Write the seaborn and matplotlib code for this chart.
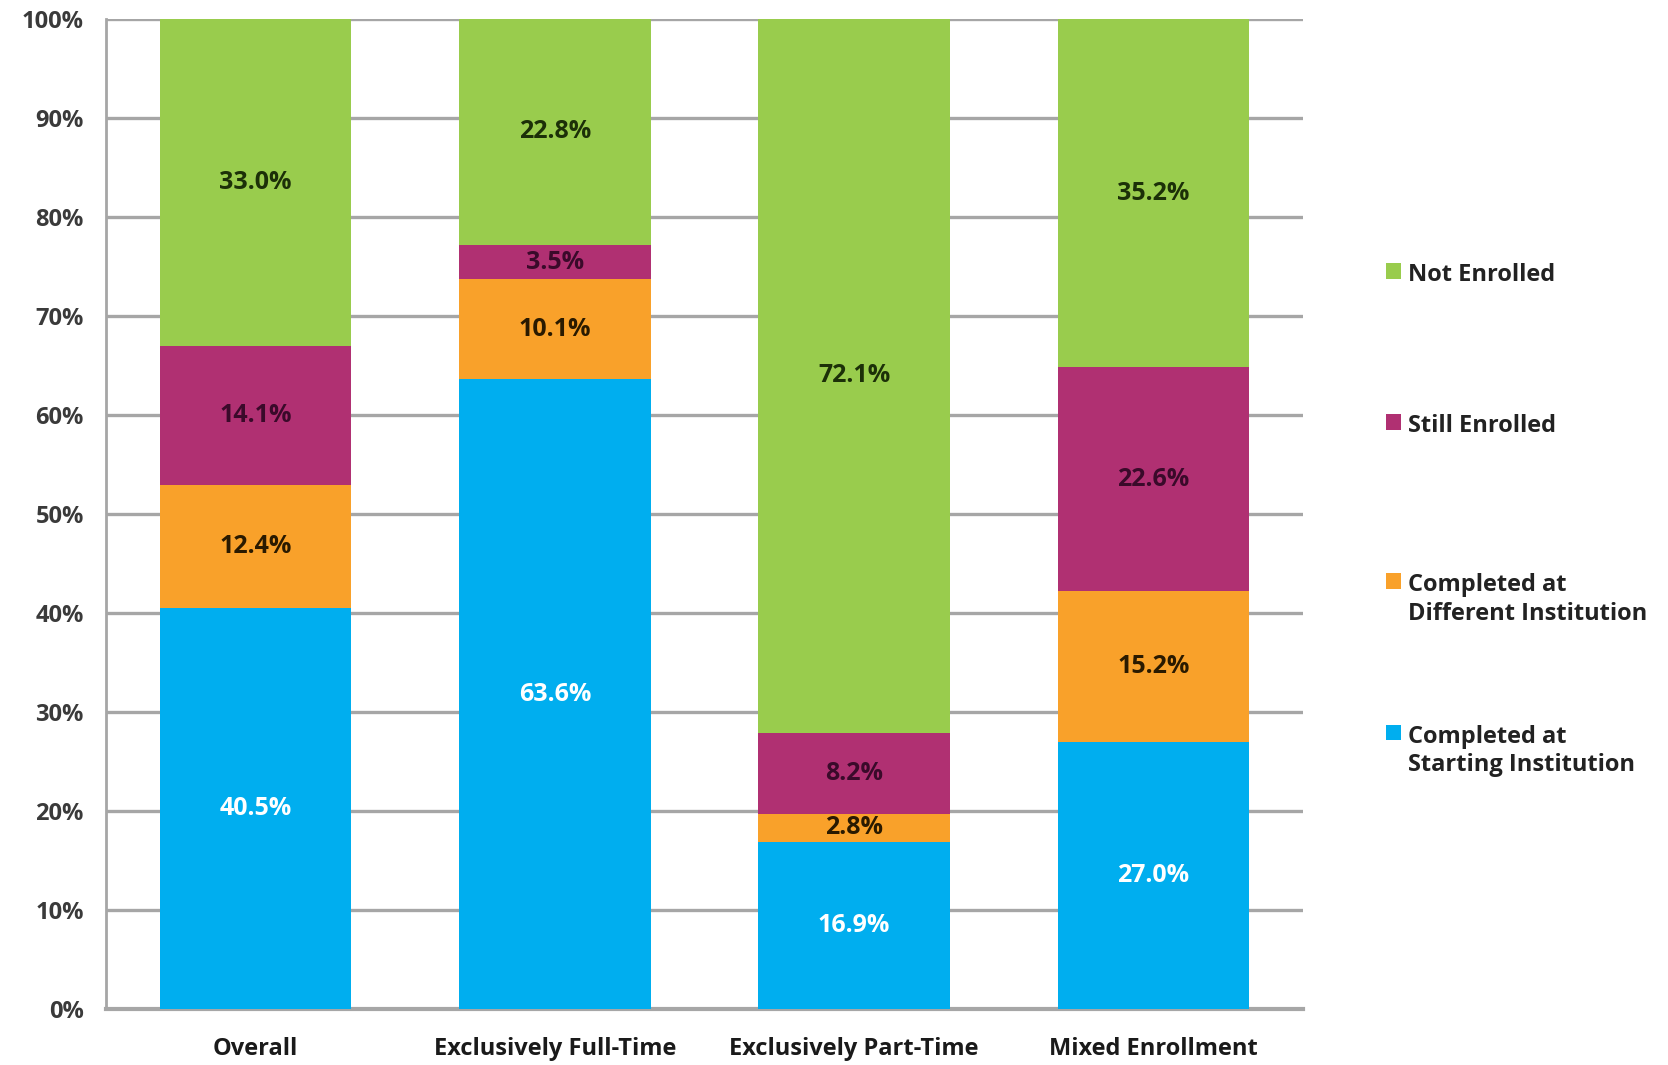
import numpy as np
import pandas as pd
import seaborn as sns
import matplotlib
matplotlib.use("Agg")
import matplotlib.pyplot as plt
from matplotlib.patches import Patch

categories = ["Overall", "Exclusively Full-Time", "Exclusively Part-Time", "Mixed Enrollment"]
series_names = ["Completed at\nStarting Institution", "Completed at\nDifferent Institution",
                "Still Enrolled", "Not Enrolled"]
starting = [40.5, 63.6, 16.9, 27.0]
different = [12.4, 10.1, 2.8, 15.2]
still = [14.1, 3.5, 8.2, 22.6]
not_enrolled = [33.0, 22.8, 72.1, 35.2]
ytick_labels = ["0%", "10%", "20%", "30%", "40%", "50%", "60%", "70%", "80%", "90%", "100%"]

colors = ["#00AEEF", "#F9A12A", "#B03072", "#99CC4D"]
label_colors = ["white", "#2a1a00", "#3a0a2a", "#1c3008"]

sns.set_theme(style="white")
plt.rcParams["font.family"] = ["Open Sans", "DejaVu Sans"]

fig = plt.figure(figsize=(16.68, 10.65), dpi=100)
ax = fig.add_axes([106/1668, 1 - 1009/1065, (1303-106)/1668, (1009-19)/1065])

series = [starting, different, still, not_enrolled]
bottom = np.zeros(len(categories))
for vals, name, col, lc in zip(series, series_names, colors, label_colors):
    df = pd.DataFrame({"cat": categories, "val": vals})
    sns.barplot(data=df, x="cat", y="val", color=col, bottom=bottom, width=0.64,
                ax=ax, saturation=1, errorbar=None, zorder=3, linewidth=0)
    cont = ax.containers[-1]
    ax.bar_label(cont, labels=[f"{v:.1f}%" for v in vals], label_type="center",
                 color=lc, fontsize=18, fontweight="bold", zorder=5)
    bottom = bottom + np.array(vals)

ax.set_ylim(0, 100)
ax.set_xlim(-0.5, 3.5)
ax.set_yticks(np.arange(0, 101, 10))
ax.set_yticklabels(ytick_labels, fontsize=17, fontweight="bold", color="#3a3a3a")
ax.set_xticks(range(len(categories)))
ax.set_xticklabels(categories, fontsize=17, fontweight="bold", color="#1a1a1a")
ax.tick_params(axis="y", length=0, pad=16)
ax.tick_params(axis="x", length=0, pad=20)
ax.set_xlabel("")
ax.set_ylabel("")
ax.yaxis.grid(True, color="#a6a6a6", linewidth=2.4, zorder=0)
ax.set_axisbelow(True)
for s in ["top", "right"]:
    ax.spines[s].set_visible(False)
ax.spines["left"].set_color("#a6a6a6")
ax.spines["left"].set_linewidth(2)
ax.spines["bottom"].set_color("#a6a6a6")
ax.spines["bottom"].set_linewidth(3)

legend_entries = [("Not Enrolled", colors[3], 0.742),
                  ("Still Enrolled", colors[2], 0.600),
                  ("Completed at\nDifferent Institution", colors[1], 0.437),
                  ("Completed at\nStarting Institution", colors[0], 0.295)]
for lab, col, y in legend_entries:
    leg = fig.legend(handles=[Patch(facecolor=col, edgecolor="none", label=lab)],
                     loc="center left", bbox_to_anchor=(1386/1668, y), frameon=False,
                     prop={"size": 17, "weight": "bold"},
                     handlelength=0.65, handleheight=0.65, handletextpad=0.3,
                     borderpad=0, borderaxespad=0)
    for t in leg.get_texts():
        t.set_color("#222222")
        t.set_linespacing(1.25)
    for col_box in leg._legend_handle_box.get_children():
        for hp in col_box.get_children():
            hp.align = "top"

fig.savefig("out.png", dpi=100)
